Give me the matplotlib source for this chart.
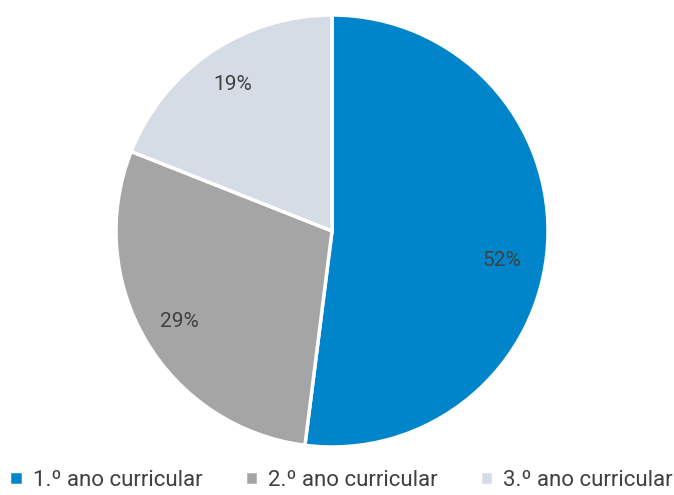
import matplotlib
matplotlib.use("Agg")
import matplotlib.pyplot as plt
import numpy as np

labels = ["1.º ano curricular", "2.º ano curricular", "3.º ano curricular"]
values = [52, 29, 19]
colors = ["#0085CB", "#A5A5A5", "#D6DCE5"]

plt.rcParams['font.family'] = ['Roboto', 'DejaVu Sans']

fig = plt.figure(figsize=(6.74, 4.95), dpi=100)
ax = fig.add_axes([0.1721, 0.097, 0.641, 0.8727])

wedges, texts, autotexts = ax.pie(
    values, colors=colors, startangle=90, counterclock=False,
    autopct=lambda p: f"{p:.0f}%", pctdistance=0.82,
    wedgeprops=dict(edgecolor="white", linewidth=2.5),
    textprops=dict(color="#404040", fontsize=15))
ax.set_xlim(-1, 1)
ax.set_ylim(-1, 1)
ax.set_aspect("equal")

# the big slice's label sits a bit below its mid angle
ang = np.deg2rad(-10)
autotexts[0].set_position((0.80 * np.cos(ang), 0.80 * np.sin(ang)))

fig.legend(wedges, labels, loc="lower center", ncol=3, frameon=False,
           bbox_to_anchor=(0.506, -0.032),
           prop=dict(size=16), labelcolor="#404040",
           handlelength=0.6, handleheight=0.6, handletextpad=0.45,
           columnspacing=1.9)

fig.savefig("out.png", dpi=100)
